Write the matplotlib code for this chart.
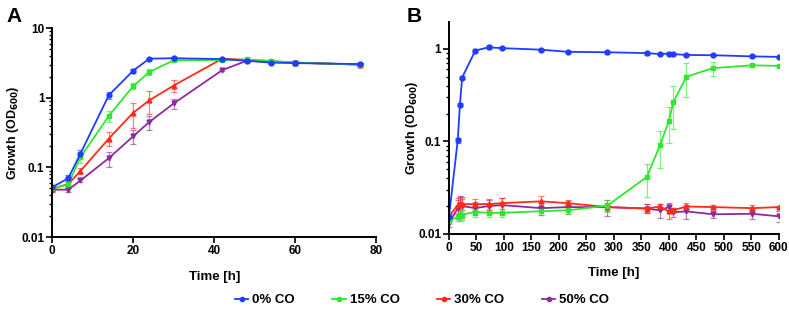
import matplotlib.pyplot as plt
from matplotlib.lines import Line2D
from matplotlib.ticker import LogLocator, NullFormatter, FuncFormatter

plt.rcParams['font.family'] = ['Liberation Sans', 'DejaVu Sans']
plt.rcParams['font.weight'] = 'bold'

# Panel A: 0-80 h
time_a = [0, 4, 7, 14, 20, 24, 30, 42, 48, 54, 60, 76]
co0_a = [0.052, 0.070, 0.158, 1.09, 2.45, 3.65, 3.7, 3.6, 3.4, 3.2, 3.15, 3.05]
co0_a_sd = [0.004, 0.007, 0.02, 0.12, 0.15, 0.12, 0.1, 0.1, 0.1, 0.1, 0.1, 0.1]
co15_a = [0.050, 0.057, 0.14, 0.55, 1.47, 2.35, 3.45, 3.5, 3.55, 3.4, 3.2, 3.0]
co15_a_sd = [0.004, 0.005, 0.025, 0.1, 0.15, 0.22, 0.1, 0.1, 0.1, 0.1, 0.1, 0.1]
co30_a = [0.049, 0.058, 0.089, 0.26, 0.61, 0.92, 1.5, 3.65, 3.5, 3.35, 3.2, 3.0]
co30_a_sd = [0.003, 0.004, 0.008, 0.06, 0.24, 0.33, 0.3, 0.1, 0.1, 0.1, 0.1, 0.1]
co50_a = [0.048, 0.048, 0.065, 0.136, 0.28, 0.45, 0.83, 2.5, 3.4, 3.3, 3.2, 3.0]
co50_a_sd = [0.003, 0.003, 0.004, 0.033, 0.06, 0.1, 0.14, 0.1, 0.1, 0.1, 0.1, 0.1]

# Panel B: 0-600 h
time_b = [0, 16, 20, 24, 48, 72, 96, 168, 216, 288, 360, 384, 400, 408, 432, 480, 552, 600]
co0_b = [0.0153, 0.103, 0.25, 0.49, 0.96, 1.04, 1.02, 0.98, 0.93, 0.92, 0.90, 0.88,
         0.89, 0.88, 0.86, 0.855, 0.83, 0.82]
co0_b_sd = [0.001, 0.006, 0.01, 0.02, 0.03, 0.05, 0.03, 0.03, 0.03, 0.03, 0.03, 0.03,
            0.03, 0.02, 0.02, 0.02, 0.02, 0.02]
co15_b = [0.0137, 0.0154, 0.0157, 0.0162, 0.0173, 0.0169, 0.0169, 0.0176, 0.018, 0.0202,
          0.0413, 0.091, 0.165, 0.265, 0.50, 0.62, 0.665, 0.655]
co15_b_sd = [0.001, 0.0015, 0.002, 0.002, 0.002, 0.0015, 0.0015, 0.0015, 0.0015, 0.003,
             0.016, 0.04, 0.07, 0.13, 0.2, 0.11, 0.02, 0.02]
co30_b = [0.0155, 0.0205, 0.021, 0.021, 0.021, 0.021, 0.0215, 0.0225, 0.0215, 0.0195,
          0.0188, 0.0198, 0.0175, 0.018, 0.0198, 0.0195, 0.019, 0.0195]
co30_b_sd = [0.001, 0.004, 0.004, 0.003, 0.003, 0.003, 0.003, 0.003, 0.002, 0.002,
             0.002, 0.0015, 0.003, 0.001, 0.002, 0.001, 0.0013, 0.0005]
co50_b = [0.013, 0.019, 0.0205, 0.020, 0.019, 0.020, 0.0205, 0.019, 0.0195, 0.0195,
          0.0188, 0.018, 0.0195, 0.0172, 0.0175, 0.0163, 0.0165, 0.0155]
co50_b_sd = [0.001, 0.004, 0.005, 0.005, 0.003, 0.003, 0.004, 0.003, 0.003, 0.004,
             0.002, 0.003, 0.002, 0.002, 0.003, 0.0015, 0.002, 0.002]

labels = ["0% CO", "15% CO", "30% CO", "50% CO"]
colors = ["#1f3cff", "#2ee82e", "#ff2a1a", "#8e2a9c"]
markers = ["o", "s", "^", "v"]

fig = plt.figure(figsize=(7.89, 3.2), dpi=100)
ax_a = fig.add_axes([0.066, 0.259, 0.411, 0.653])
ax_b = fig.add_axes([0.569, 0.269, 0.418, 0.662])

panel_a = [(co0_a, co0_a_sd), (co15_a, co15_a_sd), (co30_a, co30_a_sd), (co50_a, co50_a_sd)]
panel_b = [(co0_b, co0_b_sd), (co15_b, co15_b_sd), (co30_b, co30_b_sd), (co50_b, co50_b_sd)]

# draw 0% CO last so it sits on top
for i in [3, 2, 1, 0]:
    for ax, t, (y, sd) in [(ax_a, time_a, panel_a[i]), (ax_b, time_b, panel_b[i])]:
        ax.errorbar(t, y, yerr=sd, color=colors[i], marker=markers[i], markersize=3.5,
                    lw=1.3, elinewidth=0.9, capsize=2.2, capthick=0.9, ecolor=colors[i] + "99")

for ax in (ax_a, ax_b):
    ax.set_yscale("log")
    ax.spines["top"].set_visible(False)
    ax.spines["right"].set_visible(False)
    ax.spines["left"].set_linewidth(1.4)
    ax.spines["bottom"].set_linewidth(1.4)
    ax.yaxis.set_major_locator(LogLocator(base=10))
    ax.yaxis.set_minor_locator(LogLocator(base=10, subs=range(2, 10)))
    ax.yaxis.set_minor_formatter(NullFormatter())
    ax.yaxis.set_major_formatter(FuncFormatter(lambda v, p: f"{v:g}"))
    ax.tick_params(axis="both", which="major", labelsize=8.5, width=1.2, length=4, pad=1.5)
    ax.tick_params(axis="y", which="minor", width=1, length=2.5)
    ax.set_xlabel("Time [h]", fontsize=9.5, fontweight="bold", labelpad=10)
    ax.set_ylabel("Growth (OD$_{\\mathbf{600}}$)", fontsize=9, fontweight="bold")

ax_a.yaxis.set_label_coords(-0.095, 0.5)
ax_b.yaxis.set_label_coords(-0.088, 0.5)

ax_a.set_xlim(0, 80)
ax_a.set_ylim(0.01, 10)
ax_a.set_xticks([0, 20, 40, 60, 80])

ax_b.set_xlim(0, 600)
ax_b.set_ylim(0.01, 1.95)
ax_b.set_xticks(range(0, 601, 50))

fig.text(0.008, 0.93, "A", fontsize=15, fontweight="bold")
fig.text(0.515, 0.93, "B", fontsize=15, fontweight="bold")

handles = [Line2D([], [], color=c, marker="o", markersize=3, lw=1.3) for c in colors]
fig.legend(handles, labels, loc="center", bbox_to_anchor=(0.535, 0.062),
           ncol=4, frameon=False, fontsize=9.5, handlelength=1.0, handletextpad=0.3,
           columnspacing=2.85)

fig.savefig("out.png", dpi=100)
